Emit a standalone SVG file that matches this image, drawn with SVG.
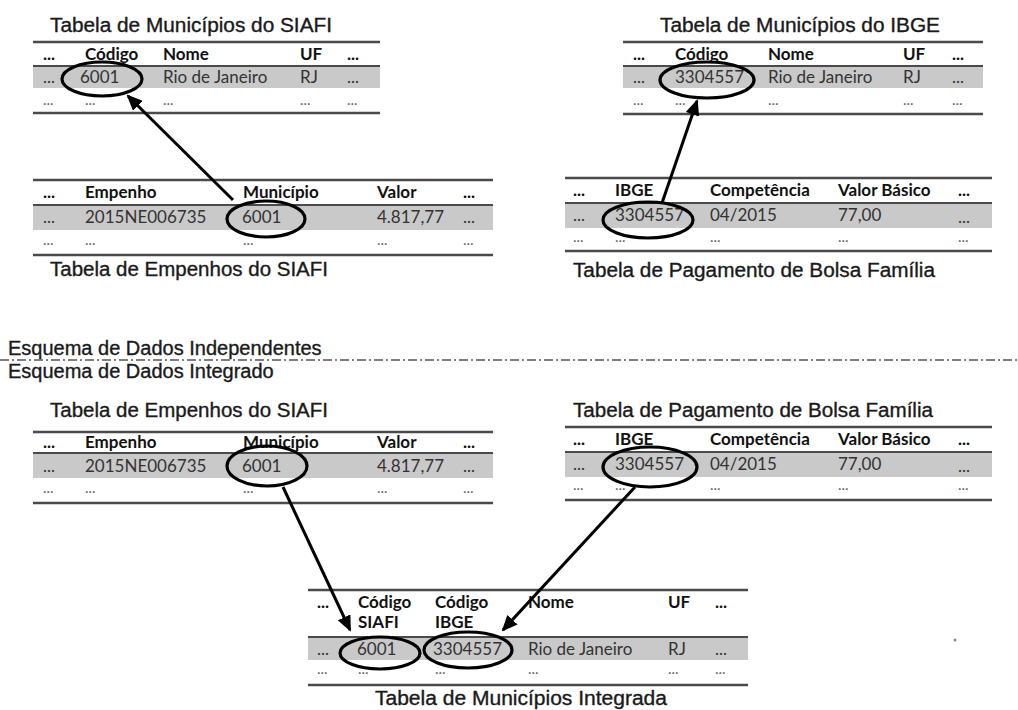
<svg xmlns="http://www.w3.org/2000/svg" width="1018" height="710" viewBox="0 0 1018 710">
<style>
.t{font-family:"Liberation Sans",Arial,sans-serif;font-size:20px;fill:#1a1a1a;stroke:#1a1a1a;stroke-width:0.35}
.h{font-family:Lato,"Liberation Sans",sans-serif;font-weight:bold;font-size:17px;fill:#111}
.r{font-family:Lato,"Liberation Sans",sans-serif;font-size:17px;fill:#333}
.d{font-family:Lato,"Liberation Sans",sans-serif;font-size:15px;fill:#666}
.ln{stroke:#4a4a4a;stroke-width:2.5}
.sp{stroke:#4a4a4a;stroke-width:2}
.g{fill:#c9c9c9}
.el{fill:none;stroke:#000;stroke-width:3.2}
.ar{stroke:#000;stroke-width:3;fill:none;marker-end:url(#ah)}
</style>
<defs>
<marker id="ah" markerUnits="userSpaceOnUse" markerWidth="16" markerHeight="14" refX="14" refY="7" orient="auto">
<path d="M0,0 L16,7 L0,14 Z" fill="#000"/>
</marker>
</defs>
<rect width="1018" height="710" fill="#fff"/>

<g id="tab-municipios-siafi">
<text class="t" x="50" y="32" textLength="282" lengthAdjust="spacingAndGlyphs">Tabela de Municípios do SIAFI</text>
<rect class="g" x="33" y="66" width="347" height="22"/>
<line class="ln" x1="33" y1="42" x2="380" y2="42"/>
<line class="sp" x1="33" y1="66" x2="380" y2="66"/>
<line class="ln" x1="33" y1="113" x2="380" y2="113"/>
<text class="h" x="43" y="60">...</text><text class="h" x="85" y="60">Código</text><text class="h" x="163" y="60">Nome</text><text class="h" x="300" y="60">UF</text><text class="h" x="347" y="60">...</text>
<text class="r" x="43" y="83">...</text><text class="r" x="80" y="83">6001</text><text class="r" x="163" y="83">Rio de Janeiro</text><text class="r" x="300" y="83">RJ</text><text class="r" x="347" y="83">...</text>
<text class="d" x="43" y="105">...</text><text class="d" x="85" y="105">...</text><text class="d" x="163" y="105">...</text><text class="d" x="300" y="105">...</text><text class="d" x="347" y="105">...</text>
<ellipse class="el" cx="102" cy="79" rx="40" ry="17"/>
</g>

<g id="tab-municipios-ibge">
<text class="t" x="660" y="32" textLength="280" lengthAdjust="spacingAndGlyphs">Tabela de Municípios do IBGE</text>
<rect class="g" x="623" y="66" width="360" height="22"/>
<line class="ln" x1="623" y1="42" x2="983" y2="42"/>
<line class="sp" x1="623" y1="66" x2="983" y2="66"/>
<line class="ln" x1="623" y1="114" x2="983" y2="114"/>
<text class="h" x="633" y="60">...</text><text class="h" x="675" y="60">Código</text><text class="h" x="768" y="60">Nome</text><text class="h" x="903" y="60">UF</text><text class="h" x="952" y="60">...</text>
<text class="r" x="633" y="83">...</text><text class="r" x="675" y="83">3304557</text><text class="r" x="768" y="83">Rio de Janeiro</text><text class="r" x="903" y="83">RJ</text><text class="r" x="952" y="83">...</text>
<text class="d" x="633" y="105">...</text><text class="d" x="675" y="105">...</text><text class="d" x="768" y="105">...</text><text class="d" x="903" y="105">...</text><text class="d" x="952" y="105">...</text>
<ellipse class="el" cx="707" cy="80" rx="47" ry="18"/>
</g>

<g id="tab-empenhos-siafi-1">
<rect class="g" x="33" y="205" width="460" height="25"/>
<line class="ln" x1="33" y1="180" x2="493" y2="180"/>
<line class="sp" x1="33" y1="205" x2="493" y2="205"/>
<line class="ln" x1="33" y1="255" x2="493" y2="255"/>
<text class="h" x="43" y="198">...</text><text class="h" x="85" y="198">Empenho</text><text class="h" x="243" y="198">Município</text><text class="h" x="377" y="198">Valor</text><text class="h" x="463" y="198">...</text>
<text class="r" x="43" y="223">...</text><text class="r" x="85" y="223">2015NE006735</text><text class="r" x="242" y="223">6001</text><text class="r" x="377" y="223">4.817,77</text><text class="r" x="463" y="223">...</text>
<text class="d" x="43" y="245">...</text><text class="d" x="85" y="245">...</text><text class="d" x="243" y="245">...</text><text class="d" x="377" y="245">...</text><text class="d" x="463" y="245">...</text>
<ellipse class="el" cx="266" cy="219" rx="39" ry="18"/>
<text class="t" x="50" y="276" textLength="278" lengthAdjust="spacingAndGlyphs">Tabela de Empenhos do SIAFI</text>
</g>

<g id="tab-bolsa-1">
<rect class="g" x="565" y="203" width="427" height="25"/>
<line class="ln" x1="565" y1="178" x2="992" y2="178"/>
<line class="sp" x1="565" y1="203" x2="992" y2="203"/>
<line class="ln" x1="565" y1="251" x2="992" y2="251"/>
<text class="h" x="573" y="196">...</text><text class="h" x="615" y="196">IBGE</text><text class="h" x="710" y="196">Competência</text><text class="h" x="838" y="196">Valor Básico</text><text class="h" x="958" y="196">...</text>
<text class="r" x="573" y="221">...</text><text class="r" x="615" y="221">3304557</text><text class="r" x="710" y="221">04/2015</text><text class="r" x="838" y="221">77,00</text><text class="r" x="958" y="223">...</text>
<text class="d" x="573" y="242">...</text><text class="d" x="615" y="242">...</text><text class="d" x="710" y="242">...</text><text class="d" x="838" y="242">...</text><text class="d" x="958" y="242">...</text>
<ellipse class="el" cx="648" cy="220" rx="45" ry="18"/>
<text class="t" x="573" y="277" textLength="362" lengthAdjust="spacingAndGlyphs">Tabela de Pagamento de Bolsa Família</text>
</g>

<g id="separador">
<text class="t" x="8" y="355">Esquema de Dados Independentes</text>
<line x1="0" y1="360" x2="1018" y2="360" stroke="#555" stroke-width="1.5" stroke-dasharray="9 3 2 3"/>
<text class="t" x="8" y="378">Esquema de Dados Integrado</text>
</g>

<g id="tab-empenhos-siafi-2">
<text class="t" x="50" y="417" textLength="278" lengthAdjust="spacingAndGlyphs">Tabela de Empenhos do SIAFI</text>
<rect class="g" x="33" y="453" width="460" height="25"/>
<line class="ln" x1="33" y1="432" x2="493" y2="432"/>
<line class="sp" x1="33" y1="453" x2="493" y2="453"/>
<line class="ln" x1="33" y1="503" x2="493" y2="503"/>
<text class="h" x="43" y="448">...</text><text class="h" x="85" y="448">Empenho</text><text class="h" x="243" y="448">Município</text><text class="h" x="377" y="448">Valor</text><text class="h" x="463" y="448">...</text>
<text class="r" x="43" y="472">...</text><text class="r" x="85" y="472">2015NE006735</text><text class="r" x="242" y="472">6001</text><text class="r" x="377" y="472">4.817,77</text><text class="r" x="463" y="472">...</text>
<text class="d" x="43" y="493">...</text><text class="d" x="85" y="493">...</text><text class="d" x="243" y="493">...</text><text class="d" x="377" y="493">...</text><text class="d" x="463" y="493">...</text>
<ellipse class="el" cx="267" cy="466" rx="40" ry="20"/>
</g>

<g id="tab-bolsa-2">
<text class="t" x="573" y="417" textLength="360" lengthAdjust="spacingAndGlyphs">Tabela de Pagamento de Bolsa Família</text>
<rect class="g" x="565" y="452" width="427" height="25"/>
<line class="ln" x1="565" y1="427" x2="992" y2="427"/>
<line class="sp" x1="565" y1="452" x2="992" y2="452"/>
<line class="ln" x1="565" y1="500" x2="992" y2="500"/>
<text class="h" x="573" y="445">...</text><text class="h" x="615" y="445">IBGE</text><text class="h" x="710" y="445">Competência</text><text class="h" x="838" y="445">Valor Básico</text><text class="h" x="958" y="445">...</text>
<text class="r" x="573" y="470">...</text><text class="r" x="615" y="470">3304557</text><text class="r" x="710" y="470">04/2015</text><text class="r" x="838" y="470">77,00</text><text class="r" x="958" y="472">...</text>
<text class="d" x="573" y="490">...</text><text class="d" x="615" y="490">...</text><text class="d" x="710" y="490">...</text><text class="d" x="838" y="490">...</text><text class="d" x="958" y="490">...</text>
<ellipse class="el" cx="650" cy="467" rx="47" ry="20"/>
</g>

<g id="tab-municipios-integrada">
<rect class="g" x="308" y="637" width="440" height="23"/>
<line class="ln" x1="308" y1="590" x2="748" y2="590"/>
<line class="sp" x1="308" y1="637" x2="748" y2="637"/>
<line class="ln" x1="308" y1="685" x2="748" y2="685"/>
<text class="h" x="317" y="608">...</text><text class="h" x="358" y="608">Código</text><text class="h" x="435" y="608">Código</text><text class="h" x="528" y="608">Nome</text><text class="h" x="668" y="608">UF</text><text class="h" x="715" y="608">...</text>
<text class="h" x="358" y="628">SIAFI</text><text class="h" x="435" y="628">IBGE</text>
<text class="r" x="317" y="655">...</text><text class="r" x="357" y="655">6001</text><text class="r" x="433" y="655">3304557</text><text class="r" x="528" y="655">Rio de Janeiro</text><text class="r" x="668" y="655">RJ</text><text class="r" x="715" y="655">...</text>
<text class="d" x="317" y="674">...</text><text class="d" x="358" y="674">...</text><text class="d" x="435" y="674">...</text><text class="d" x="528" y="674">...</text><text class="d" x="668" y="674">...</text><text class="d" x="715" y="674">...</text>
<ellipse class="el" cx="380" cy="653" rx="40" ry="16"/>
<ellipse class="el" cx="468" cy="650" rx="44" ry="18"/>
<text class="t" x="375" y="705" textLength="292" lengthAdjust="spacingAndGlyphs">Tabela de Municípios Integrada</text>
</g>

<g id="connectors">
<line class="ar" x1="233" y1="200" x2="128" y2="96"/>
<line class="ar" x1="662" y1="203" x2="697" y2="101"/>
<line class="ar" x1="283" y1="487" x2="350" y2="630"/>
<line class="ar" x1="635" y1="487" x2="503" y2="630"/>
</g>
<circle cx="955" cy="640" r="1.5" fill="#888"/>
</svg>
